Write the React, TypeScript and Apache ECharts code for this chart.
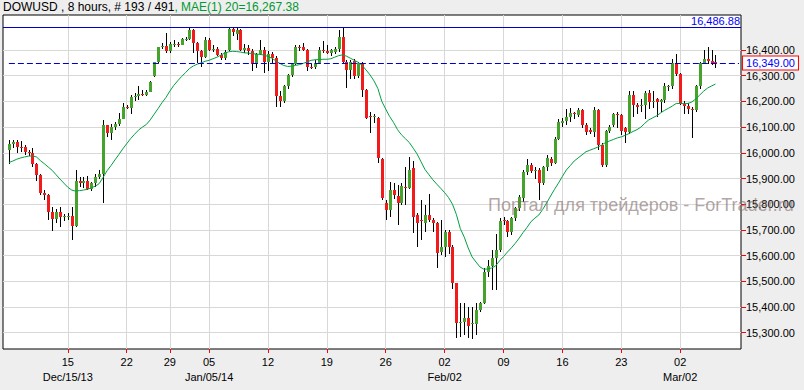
import React, { useEffect, useRef } from 'react';
import * as echarts from 'echarts';

// ---- data ----
const opens = [
  16011, 16034, 16042, 16024, 16022, 16005, 15998, 15957, 15913, 15845,
  15836, 15771, 15741, 15771, 15752, 15752, 15756, 15717, 15890, 15881,
  15890, 15859, 15881, 15905, 15918, 16107, 16076, 16099, 16113, 16133,
  16178, 16176, 16216, 16222, 16230, 16226, 16238, 16299, 16352, 16411,
  16417, 16398, 16422, 16422, 16421, 16442, 16443, 16476, 16426, 16398,
  16374, 16437, 16400, 16405, 16381, 16368, 16400, 16480, 16462, 16478,
  16400, 16406, 16398, 16345, 16385, 16400, 16352, 16385, 16370, 16220,
  16200, 16258, 16303, 16345, 16413, 16410, 16400, 16335, 16332, 16350,
  16400, 16396, 16387, 16394, 16403, 16452, 16355, 16322, 16359, 16297,
  16348, 16245, 16143, 16140, 16137, 15975, 15804, 15778, 15856, 15830,
  15804, 15866, 15862, 15939, 15758, 15740, 15726, 15758, 15739, 15726,
  15615, 15634, 15690, 15634, 15492, 15341, 15343, 15356, 15334, 15334,
  15388, 15414, 15537, 15559, 15589, 15621, 15738, 15733, 15693, 15745,
  15784, 15823, 15926, 15952, 15929, 15933, 15881, 15946, 15976, 15959,
  16054, 16117, 16125, 16138, 16156, 16147, 16166, 16108, 16089, 16082,
  16166, 16030, 15952, 16085, 16108, 16151, 16147, 16095, 16082, 16225,
  16186, 16181, 16186, 16234, 16199, 16208, 16199, 16205, 16258, 16260,
  16348, 16306, 16190, 16182, 16172, 16167, 16258, 16351, 16364, 16358, 16352,
];
const closes = [
  16034, 16042, 16024, 16020, 16005, 15998, 15957, 15913, 15845, 15836,
  15771, 15741, 15771, 15752, 15756, 15755, 15717, 15890, 15881, 15890,
  15858, 15881, 15905, 15918, 16107, 16076, 16099, 16113, 16133, 16178,
  16176, 16216, 16222, 16230, 16226, 16238, 16276, 16352, 16411, 16417,
  16398, 16422, 16424, 16421, 16442, 16443, 16478, 16426, 16398, 16374,
  16437, 16400, 16405, 16381, 16368, 16394, 16480, 16470, 16478, 16400,
  16406, 16398, 16345, 16385, 16400, 16355, 16385, 16370, 16220, 16200,
  16258, 16303, 16345, 16413, 16410, 16400, 16335, 16332, 16350, 16400,
  16398, 16387, 16400, 16403, 16452, 16355, 16322, 16355, 16297, 16348,
  16245, 16137, 16140, 16143, 15979, 15823, 15778, 15856, 15836, 15806,
  15869, 15862, 15934, 15752, 15726, 15735, 15758, 15739, 15726, 15610,
  15634, 15690, 15634, 15492, 15339, 15343, 15356, 15327, 15336, 15388,
  15414, 15537, 15559, 15589, 15621, 15734, 15733, 15693, 15745, 15784,
  15829, 15926, 15952, 15929, 15933, 15881, 15946, 15978, 15959, 16054,
  16121, 16125, 16138, 16156, 16153, 16166, 16108, 16082, 16082, 16166,
  16030, 15952, 16085, 16102, 16151, 16148, 16086, 16082, 16225, 16186,
  16179, 16186, 16232, 16199, 16202, 16199, 16205, 16258, 16260, 16348,
  16306, 16190, 16182, 16172, 16167, 16258, 16351, 16364, 16356, 16347, 16349,
];
const highs = [
  16050, 16048, 16050, 16045, 16030, 16012, 16020, 15962, 15918, 15856,
  15840, 15791, 15780, 15791, 15760, 15765, 15791, 15933, 15905, 15905,
  15910, 15885, 15918, 15935, 16128, 16110, 16112, 16118, 16154, 16193,
  16185, 16225, 16232, 16258, 16245, 16245, 16280, 16355, 16413, 16426,
  16465, 16430, 16440, 16432, 16445, 16450, 16487, 16480, 16430, 16400,
  16450, 16445, 16418, 16410, 16390, 16400, 16490, 16485, 16486, 16482,
  16425, 16418, 16402, 16390, 16440, 16410, 16395, 16392, 16375, 16240,
  16262, 16305, 16350, 16418, 16420, 16428, 16405, 16345, 16360, 16410,
  16435, 16420, 16405, 16410, 16478, 16488, 16360, 16362, 16365, 16352,
  16352, 16250, 16160, 16150, 16140, 15980, 15815, 15888, 15881, 15875,
  15881, 15945, 15985, 15970, 15765, 15817, 15797, 15840, 15745, 15730,
  15738, 15699, 15699, 15640, 15495, 15414, 15414, 15400, 15400, 15414,
  15420, 15550, 15582, 15621, 15686, 15745, 15751, 15738, 15750, 15790,
  15835, 15935, 15975, 15960, 15945, 15940, 15950, 15990, 15985, 16060,
  16130, 16135, 16170, 16175, 16160, 16175, 16170, 16115, 16095, 16180,
  16172, 16040, 16090, 16110, 16155, 16160, 16150, 16100, 16240, 16240,
  16195, 16210, 16240, 16245, 16240, 16215, 16210, 16270, 16265, 16365,
  16385, 16310, 16200, 16195, 16178, 16265, 16355, 16400, 16413, 16400, 16380,
];
const lows = [
  15957, 16020, 16000, 16005, 15990, 15988, 15946, 15890, 15836, 15817,
  15739, 15697, 15725, 15713, 15735, 15740, 15661, 15713, 15868, 15862,
  15855, 15850, 15868, 15900, 15806, 16063, 16050, 16090, 16105, 16130,
  16170, 16150, 16200, 16206, 16220, 16222, 16236, 16296, 16348, 16405,
  16390, 16390, 16410, 16410, 16418, 16435, 16440, 16387, 16350, 16335,
  16370, 16395, 16392, 16375, 16360, 16360, 16395, 16455, 16440, 16395,
  16390, 16380, 16320, 16330, 16380, 16310, 16320, 16350, 16180, 16177,
  16195, 16250, 16295, 16340, 16395, 16395, 16320, 16325, 16325, 16345,
  16390, 16385, 16375, 16385, 16394, 16350, 16251, 16286, 16286, 16290,
  16216, 16130, 16076, 16115, 15959, 15815, 15739, 15752, 15820, 15719,
  15797, 15797, 15860, 15687, 15635, 15661, 15693, 15730, 15693, 15551,
  15602, 15596, 15608, 15472, 15278, 15282, 15291, 15278, 15274, 15291,
  15380, 15410, 15518, 15466, 15466, 15615, 15719, 15673, 15680, 15735,
  15775, 15810, 15915, 15920, 15900, 15816, 15875, 15930, 15950, 15955,
  16050, 16100, 16110, 16120, 16130, 16140, 16095, 16070, 16075, 16060,
  16010, 15944, 15944, 16078, 16100, 16095, 16070, 16040, 16075, 16140,
  16150, 16160, 16130, 16170, 16175, 16140, 16160, 16195, 16240, 16250,
  16300, 16185, 16150, 16150, 16057, 16160, 16250, 16345, 16345, 16340, 16330,
];
const maValues = [
  15962, 15968, 15975, 15980, 15984, 15987, 15988, 15984, 15970, 15958,
  15945, 15932, 15915, 15898, 15882, 15866, 15855, 15851, 15853, 15855,
  15858, 15864, 15870, 15880, 15904, 15930, 15950, 15972, 15993, 16015,
  16035, 16055, 16072, 16088, 16100, 16110, 16128, 16150, 16172, 16195,
  16215, 16240, 16262, 16280, 16297, 16312, 16328, 16338, 16345, 16350,
  16356, 16360, 16366, 16372, 16380, 16388, 16393, 16395, 16394, 16392,
  16389, 16388, 16386, 16384, 16383, 16380, 16375, 16368, 16358, 16348,
  16340, 16336, 16337, 16340, 16343, 16348, 16354, 16360, 16362, 16363,
  16364, 16364, 16366, 16372, 16378, 16381, 16376, 16368, 16360, 16352,
  16340, 16322, 16303, 16280, 16250, 16200, 16170, 16141, 16118, 16090,
  16070, 16055, 16040, 16018, 15995, 15965, 15935, 15915, 15895, 15878,
  15862, 15845, 15826, 15800, 15760, 15705, 15672, 15630, 15595, 15575,
  15556, 15547, 15548, 15552, 15560, 15580, 15596, 15614, 15630, 15648,
  15668, 15690, 15710, 15732, 15746, 15758, 15780, 15805, 15832, 15858,
  15882, 15908, 15933, 15950, 15968, 15980, 15992, 16004, 16010, 16016,
  16022, 16030, 16040, 16046, 16052, 16058, 16062, 16068, 16075, 16083,
  16090, 16100, 16115, 16128, 16136, 16144, 16155, 16165, 16173, 16182,
  16192, 16192, 16191, 16192, 16198, 16210, 16225, 16240, 16252, 16260, 16267.38,
];
const weekTickSlots = [16, 31, 42, 52, 67, 82, 97, 112, 127, 142, 157, 172];
const weekTickDays = ['15', '22', '29', '05', '12', '19', '26', '02', '09', '16', '23', '02'];
const weekTickMonths = ['Dec/15/13', '', '', 'Jan/05/14', '', '', '', 'Feb/02', '', '', '', 'Mar/02'];
const yTickValues = [15300, 15400, 15500, 15600, 15700, 15800, 15900, 16000, 16100, 16200, 16300, 16400];
const periodHigh = 16486.88;
const lastPrice = 16349.0;
const maLast = 16267.38;
const symbolName = 'DOWUSD';
const headerInfo = ' , 8 hours, # 193 / 491';
const maName = 'MAE(1) 20';
const watermark = 'Портал для трейдеров - ForTrader.ru';

// ---- layout ----
const slotCount = 188;
const firstSlot = 1;
const FONT = '"Liberation Sans", Arial, sans-serif';
const UP = '#45A32B';
const DOWN = '#F21A1A';

const fmt = (v: number) =>
  v.toLocaleString('en-US', { minimumFractionDigits: 2, maximumFractionDigits: 2 });

export default function App() {
  const ref = useRef<HTMLDivElement>(null);

  useEffect(() => {
    if (!ref.current) return;
    const chart = echarts.init(ref.current, null, { renderer: 'svg' });

    const categories = Array.from({ length: slotCount }, (_, s) => String(s));
    const candleData = opens.map((o, k) => [k + firstSlot, o, closes[k], lows[k], highs[k]]);
    const maSeries = Array.from({ length: slotCount }, (_, s) => {
      const k = s - firstSlot;
      return k >= 0 && k < maValues.length ? maValues[k] : null;
    });
    const tickLookup = new Map<number, number>(weekTickSlots.map((s, j) => [s, j]));
    const isTick = (index: number) => tickLookup.has(index);

    const option: any = {
      animation: false,
      backgroundColor: '#EEEEEE',
      title: {
        text: `{k|${symbolName}${headerInfo}}{g|, ${maName}=${fmt(maLast)}}`,
        left: 3,
        top: 1,
        padding: 0,
        textStyle: {
          fontFamily: FONT,
          fontSize: 12,
          fontWeight: 'normal',
          rich: {
            k: { color: '#000000', fontSize: 12, fontFamily: FONT },
            g: { color: '#009933', fontSize: 12, fontFamily: FONT },
          },
        },
      },
      grid: {
        left: 3,
        top: 15,
        width: 738,
        height: 334,
        show: true,
        backgroundColor: '#FFFFFF',
        borderColor: '#000000',
        borderWidth: 1,
      },
      xAxis: {
        type: 'category',
        data: categories,
        boundaryGap: true,
        axisLine: { show: false },
        axisTick: {
          show: true,
          interval: (index: number) => isTick(index),
          alignWithLabel: true,
          length: 4,
          lineStyle: { color: '#FF0000' },
        },
        axisLabel: {
          interval: (index: number) => isTick(index),
          margin: 5,
          color: '#000000',
          fontSize: 11,
          fontFamily: FONT,
          lineHeight: 15,
          formatter: (_v: string, index: number) => {
            const j = tickLookup.get(index);
            if (j === undefined) return '';
            const m = weekTickMonths[j];
            return m ? `${weekTickDays[j]}\n${m}` : weekTickDays[j];
          },
        },
        splitLine: {
          show: true,
          interval: (index: number) => isTick(index),
          alignWithLabel: true,
          lineStyle: { color: '#D8D8D8', width: 1 },
        },
      },
      yAxis: {
        type: 'value',
        position: 'right',
        min: 15236.6,
        max: 16536.2,
        axisLine: { show: false },
        axisTick: {
          show: true,
          length: 5,
          customValues: yTickValues,
          lineStyle: { color: '#FF0000' },
        },
        axisLabel: {
          customValues: yTickValues,
          margin: 5,
          color: '#000000',
          fontSize: 11,
          fontFamily: FONT,
          formatter: (v: number) => fmt(v),
        },
        splitLine: { show: true, lineStyle: { color: '#D8D8D8', width: 1 } },
      },
      graphic: [
        {
          type: 'text',
          left: 488,
          top: 196,
          z: 100,
          silent: true,
          style: {
            text: watermark,
            fill: 'rgba(128,108,108,0.62)',
            font: `18px ${FONT}`,
          },
        },
      ],
      series: [
        {
          type: 'custom',
          name: 'candles',
          z: 3,
          clip: true,
          encode: { x: 0, y: [1, 2, 3, 4] },
          data: candleData,
          renderItem: (_params: any, api: any) => {
            const x = api.value(0);
            const o = api.value(1);
            const c = api.value(2);
            const l = api.value(3);
            const h = api.value(4);
            const pO = api.coord([x, o]);
            const pC = api.coord([x, c]);
            const pL = api.coord([x, l]);
            const pH = api.coord([x, h]);
            const cx = Math.round(pO[0]) + 0.5;
            const top = Math.round(Math.min(pO[1], pC[1]));
            const bot = Math.round(Math.max(pO[1], pC[1]));
            const up = c >= o;
            return {
              type: 'group',
              children: [
                {
                  type: 'line',
                  shape: { x1: cx, y1: Math.round(pH[1]), x2: cx, y2: Math.round(pL[1]) },
                  style: { stroke: '#000000', lineWidth: 1 },
                },
                {
                  type: 'rect',
                  shape: { x: cx - 1.5, y: top, width: 3, height: Math.max(1, bot - top) },
                  style: { fill: up ? UP : DOWN },
                },
              ],
            };
          },
        },
        {
          type: 'line',
          name: maName,
          data: maSeries,
          showSymbol: false,
          symbol: 'none',
          connectNulls: false,
          z: 4,
          lineStyle: { color: '#00A040', width: 1 },
          markLine: {
            silent: true,
            symbol: 'none',
            animation: false,
            data: [
              {
                yAxis: periodHigh,
                lineStyle: { color: '#0000CC', type: 'solid', width: 1 },
                label: {
                  show: true,
                  position: 'insideEndTop',
                  distance: [1, 1],
                  formatter: () => fmt(periodHigh),
                  color: '#0000FF',
                  fontSize: 11,
                  fontFamily: FONT,
                },
              },
              [
                {
                  coord: [String(firstSlot), lastPrice],
                  lineStyle: { color: '#0000CC', type: [6, 3], width: 1 },
                  label: {
                    show: true,
                    position: 'end',
                    distance: 4,
                    formatter: () => fmt(lastPrice),
                    color: '#0000FF',
                    fontSize: 11,
                    fontFamily: FONT,
                    backgroundColor: '#FFFFFF',
                    borderColor: '#FF0000',
                    borderWidth: 1,
                    padding: [1, 3, 1, 3],
                  },
                },
                { coord: [String(slotCount - 1), lastPrice] },
              ],
            ],
          },
        },
      ],
    };

    chart.setOption(option);
    return () => chart.dispose();
  }, []);

  return (
    <div
      ref={ref}
      style={{ position: 'fixed', left: 0, top: 0, width: 804, height: 390 }}
    />
  );
}
